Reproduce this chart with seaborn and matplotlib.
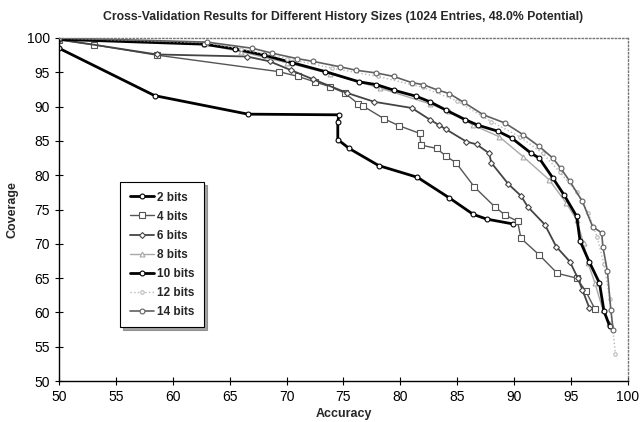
import pandas as pd
import numpy as np
import matplotlib
matplotlib.use('Agg')
import matplotlib.pyplot as plt
import seaborn as sns

# values (accuracy, coverage)
acc_2 = [50, 58.4, 66.6, 74.6, 74.5, 74.5, 75.5, 78.1, 81.5, 84.3, 86.4, 87.6, 89.9]
cov_2 = [98.5, 91.6, 88.9, 88.8, 87.8, 85.2, 83.9, 81.4, 79.7, 76.7, 74.3, 73.6, 72.9]

acc_4 = [50, 53.1, 58.6, 69.3, 71.0, 72.5, 73.8, 75.1, 76.3, 76.7, 78.6, 79.9, 81.7, 81.8,
         83.2, 84.0, 84.9, 86.5, 88.3, 89.2, 90.3, 90.6, 92.2, 93.8, 95.5, 96.3, 97.1]
cov_4 = [99.7, 99.0, 97.5, 95.1, 94.4, 93.6, 92.9, 92.0, 90.4, 90.1, 88.2, 87.2, 86.1, 84.4,
         83.9, 82.8, 81.8, 78.3, 75.4, 74.2, 73.3, 70.8, 68.4, 65.7, 65.0, 63.1, 60.5]

acc_6 = [50, 58.6, 66.5, 68.5, 70.4, 72.3, 75.3, 77.7, 81.0, 82.6, 83.4, 84.0, 85.8, 86.7,
         87.8, 88.0, 89.5, 90.6, 91.2, 92.7, 93.7, 94.9, 95.6, 96.0, 96.6]
cov_6 = [99.8, 97.6, 97.3, 96.6, 95.3, 94.0, 92.0, 90.7, 89.8, 88.1, 87.3, 86.7, 84.9, 84.5,
         83.2, 81.8, 78.7, 77.0, 75.4, 72.8, 69.6, 67.4, 65.0, 63.3, 60.7]

acc_8 = [50, 62.7, 66.0, 70.0, 73.8, 78.2, 82.6, 84.3, 86.4, 88.7, 90.8, 93.1, 94.6, 95.5,
         96.1, 96.5, 97.1, 97.8, 98.3]
cov_8 = [99.9, 99.1, 98.0, 96.4, 94.8, 92.7, 90.4, 89.3, 87.3, 85.6, 82.7, 79.3, 75.9, 73.5,
         70.1, 67.2, 64.3, 60.4, 58.5]

acc_10 = [50, 62.7, 65.5, 68.0, 70.5, 73.4, 76.4, 77.9, 79.4, 81.4, 82.6, 84.0, 85.7, 86.8,
          88.6, 89.8, 91.5, 92.2, 93.4, 94.4, 95.5, 95.8, 96.6, 97.5, 97.9, 98.4]
cov_10 = [99.8, 99.1, 98.4, 97.5, 96.4, 95.1, 93.6, 93.2, 92.4, 91.5, 90.7, 89.5, 88.1, 87.3,
          86.4, 85.4, 83.2, 82.5, 79.6, 77.1, 74.0, 70.4, 67.4, 64.3, 60.2, 58.0]

acc_12 = [50, 63.0, 66.0, 70.0, 74.0, 78.0, 82.0, 85.0, 88.0, 90.5, 92.5, 94.0, 95.5, 96.5,
          97.3, 97.9, 98.4, 98.9]
cov_12 = [100, 99.3, 98.4, 97.0, 95.6, 94.4, 92.8, 90.8, 87.8, 85.6, 83.2, 80.5, 77.5, 74.5,
          71.0, 67.0, 62.0, 54.0]

acc_14 = [50, 63.0, 67.0, 68.7, 70.9, 72.3, 74.7, 76.1, 77.9, 79.4, 81.0, 82.0, 83.3, 84.3,
          85.6, 87.3, 89.2, 90.8, 92.2, 93.4, 94.1, 94.9, 96.0, 96.9, 97.7, 97.8, 98.2, 98.5, 98.7]
cov_14 = [100, 99.4, 98.5, 97.8, 97.0, 96.6, 95.8, 95.3, 94.9, 94.4, 93.5, 93.2, 92.4, 91.9,
          90.6, 88.8, 87.6, 85.9, 84.2, 82.5, 81.0, 79.1, 76.2, 72.5, 71.6, 69.6, 66.0, 60.4, 57.5]

labels = ['2 bits', '4 bits', '6 bits', '8 bits', '10 bits', '12 bits', '14 bits']
series = [(acc_2, cov_2), (acc_4, cov_4), (acc_6, cov_6), (acc_8, cov_8),
          (acc_10, cov_10), (acc_12, cov_12), (acc_14, cov_14)]

# line style per series: colour, width, marker, marker size, linestyle
styles = {
    '2 bits': ('black', 2.0, 'o', 3.5, '-'),
    '4 bits': ('#555555', 1.0, 's', 4.0, '-'),
    '6 bits': ('#444444', 1.3, 'D', 3.0, '-'),
    '8 bits': ('#a8a8a8', 1.0, '^', 3.5, '-'),
    '10 bits': ('black', 2.0, 'o', 3.5, '-'),
    '12 bits': ('#b8b8b8', 1.0, 'o', 2.5, ':'),
    '14 bits': ('#606060', 1.2, 'o', 3.5, '-'),
}

sns.set_style('white')
plt.rcParams['font.family'] = ['Liberation Sans', 'DejaVu Sans']

fig, ax = plt.subplots(figsize=(6.42, 4.22), dpi=100)
fig.subplots_adjust(left=0.092, right=0.978, top=0.91, bottom=0.097)

for lab, (xs, ys) in zip(labels, series):
    df = pd.DataFrame({'Accuracy': xs, 'Coverage': ys})
    c, lw, mk, ms, ls = styles[lab]
    sns.lineplot(data=df, x='Accuracy', y='Coverage', sort=False, estimator=None, ax=ax,
                 color=c, linewidth=lw, linestyle=ls, marker=mk, markersize=ms,
                 markerfacecolor='white', markeredgecolor=c, markeredgewidth=0.8,
                 label=lab)

ax.set_xlim(50, 100)
ax.set_ylim(50, 100)
ax.set_xticks(np.arange(50, 101, 5))
ax.set_yticks(np.arange(50, 101, 5))
ax.tick_params(axis='both', direction='inout', length=6, width=0.8, labelsize=10,
               bottom=True, left=True, colors='black')

for s in ['left', 'bottom']:
    ax.spines[s].set_color('black')
    ax.spines[s].set_linewidth(1.0)
for s in ['top', 'right']:
    ax.spines[s].set_color('#777777')
    ax.spines[s].set_linestyle(':')
    ax.spines[s].set_linewidth(1.0)

ax.set_xlabel('Accuracy', fontsize=9, fontweight='bold', labelpad=3)
ax.set_ylabel('Coverage', fontsize=9, fontweight='bold', labelpad=6)
ax.set_title('Cross-Validation Results for Different History Sizes (1024 Entries, 48.0% Potential)',
             fontsize=8.8, fontweight='bold', pad=13)

leg = ax.legend(loc='upper left', bbox_to_anchor=(0.108, 0.58), borderaxespad=0,
                frameon=True, shadow=True, fancybox=False, edgecolor='black', fontsize=8.5,
                handlelength=2.0, borderpad=0.8, labelspacing=0.6, handletextpad=0.3)
leg.get_frame().set_linewidth(0.8)
for t in leg.get_texts():
    t.set_fontweight('bold')

fig.savefig('out.png', dpi=100)
